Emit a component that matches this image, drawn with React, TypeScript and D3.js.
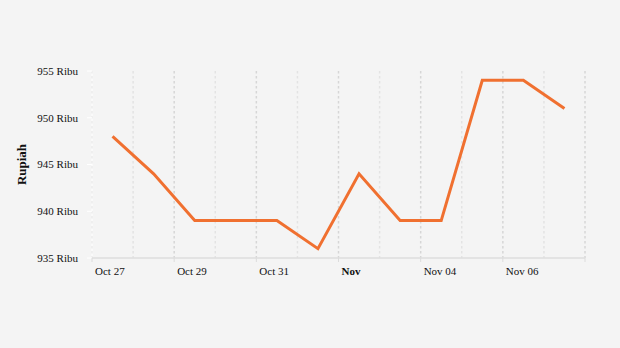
import React from "react";
import * as d3 from "d3";

const dates = ["2023-10-27","2023-10-28","2023-10-29","2023-10-30","2023-10-31","2023-11-01","2023-11-02","2023-11-03","2023-11-04","2023-11-05","2023-11-06","2023-11-07"];
const values = [948, 944, 939, 939, 939, 936, 944, 939, 939, 954, 954, 951];
const yTicks = [935, 940, 945, 950, 955];
const xTickLabels = ["Oct 27", "Oct 29", "Oct 31", "Nov", "Nov 04", "Nov 06"];
const xTickDates = ["2023-10-27","2023-10-29","2023-10-31","2023-11-02","2023-11-04","2023-11-06"];

const W = 620, H = 348;
const left = 92, right = 585, top = 71, bottom = 258;
const parse = (s: string) => { const [y, m, d] = s.split("-").map(Number); return new Date(y, m - 1, d); };

export default function App() {
  const x = d3.scaleTime().domain([new Date(2023, 9, 27), new Date(2023, 10, 8)]).range([left, right]);
  const y = d3.scaleLinear().domain([935, 955]).range([bottom, top]);
  const pts = dates.map((d, i) => [x(d3.timeHour.offset(parse(d), 12)), y(values[i])] as [number, number]);
  const line = d3.line()(pts) || "";
  const days = d3.timeDay.range(new Date(2023, 9, 27), new Date(2023, 10, 9));
  const font = "'Liberation Serif', 'DejaVu Serif', serif";
  return (
    <svg width={W} height={H} style={{ position: "absolute", left: 0, top: 0 }}>
      <rect width={W} height={H} fill="#f4f4f4" />
      {days.map((d, i) => (
        <line key={i} x1={x(d)} x2={x(d)} y1={top} y2={bottom}
          stroke={i % 2 === 0 ? "#d6d6d6" : "#e3e3e3"} strokeWidth={1.5} strokeDasharray="2.5,2.5" />
      ))}
      <line x1={left} x2={left} y1={top} y2={bottom} stroke="#ffffff" strokeWidth={1} />
      {yTicks.map((t) => (
        <g key={t}>
          <line x1={left - 5} x2={left} y1={y(t)} y2={y(t)} stroke="#ffffff" />
          <text x={78} y={y(t)} dy="0.35em" textAnchor="end" fontSize={11} fontFamily={font} fill="#111">{t} Ribu</text>
        </g>
      ))}
      <line x1={left} x2={right} y1={bottom} y2={bottom} stroke="#dedede" strokeWidth={1.3} />
      {xTickDates.map((d, i) => (
        <g key={d}>
          <line x1={x(parse(d))} x2={x(parse(d))} y1={bottom} y2={bottom + 4} stroke="#dcdcdc" />
          <text x={x(parse(d)) + 3} y={bottom + 17} fontSize={11} fontFamily={font} fill="#111"
            fontWeight={xTickLabels[i] === "Nov" ? "bold" : "normal"}>{xTickLabels[i]}</text>
        </g>
      ))}
      <line x1={right} x2={right} y1={bottom} y2={bottom + 4} stroke="#dcdcdc" />
      <text transform={`translate(26,${(top + bottom) / 2}) rotate(-90)`} textAnchor="middle" fontSize={13}
        fontWeight="bold" fontFamily={font} fill="#111">Rupiah</text>
      <path d={line} fill="none" stroke="#f07030" strokeWidth={3} strokeLinejoin="miter" />
    </svg>
  );
}
